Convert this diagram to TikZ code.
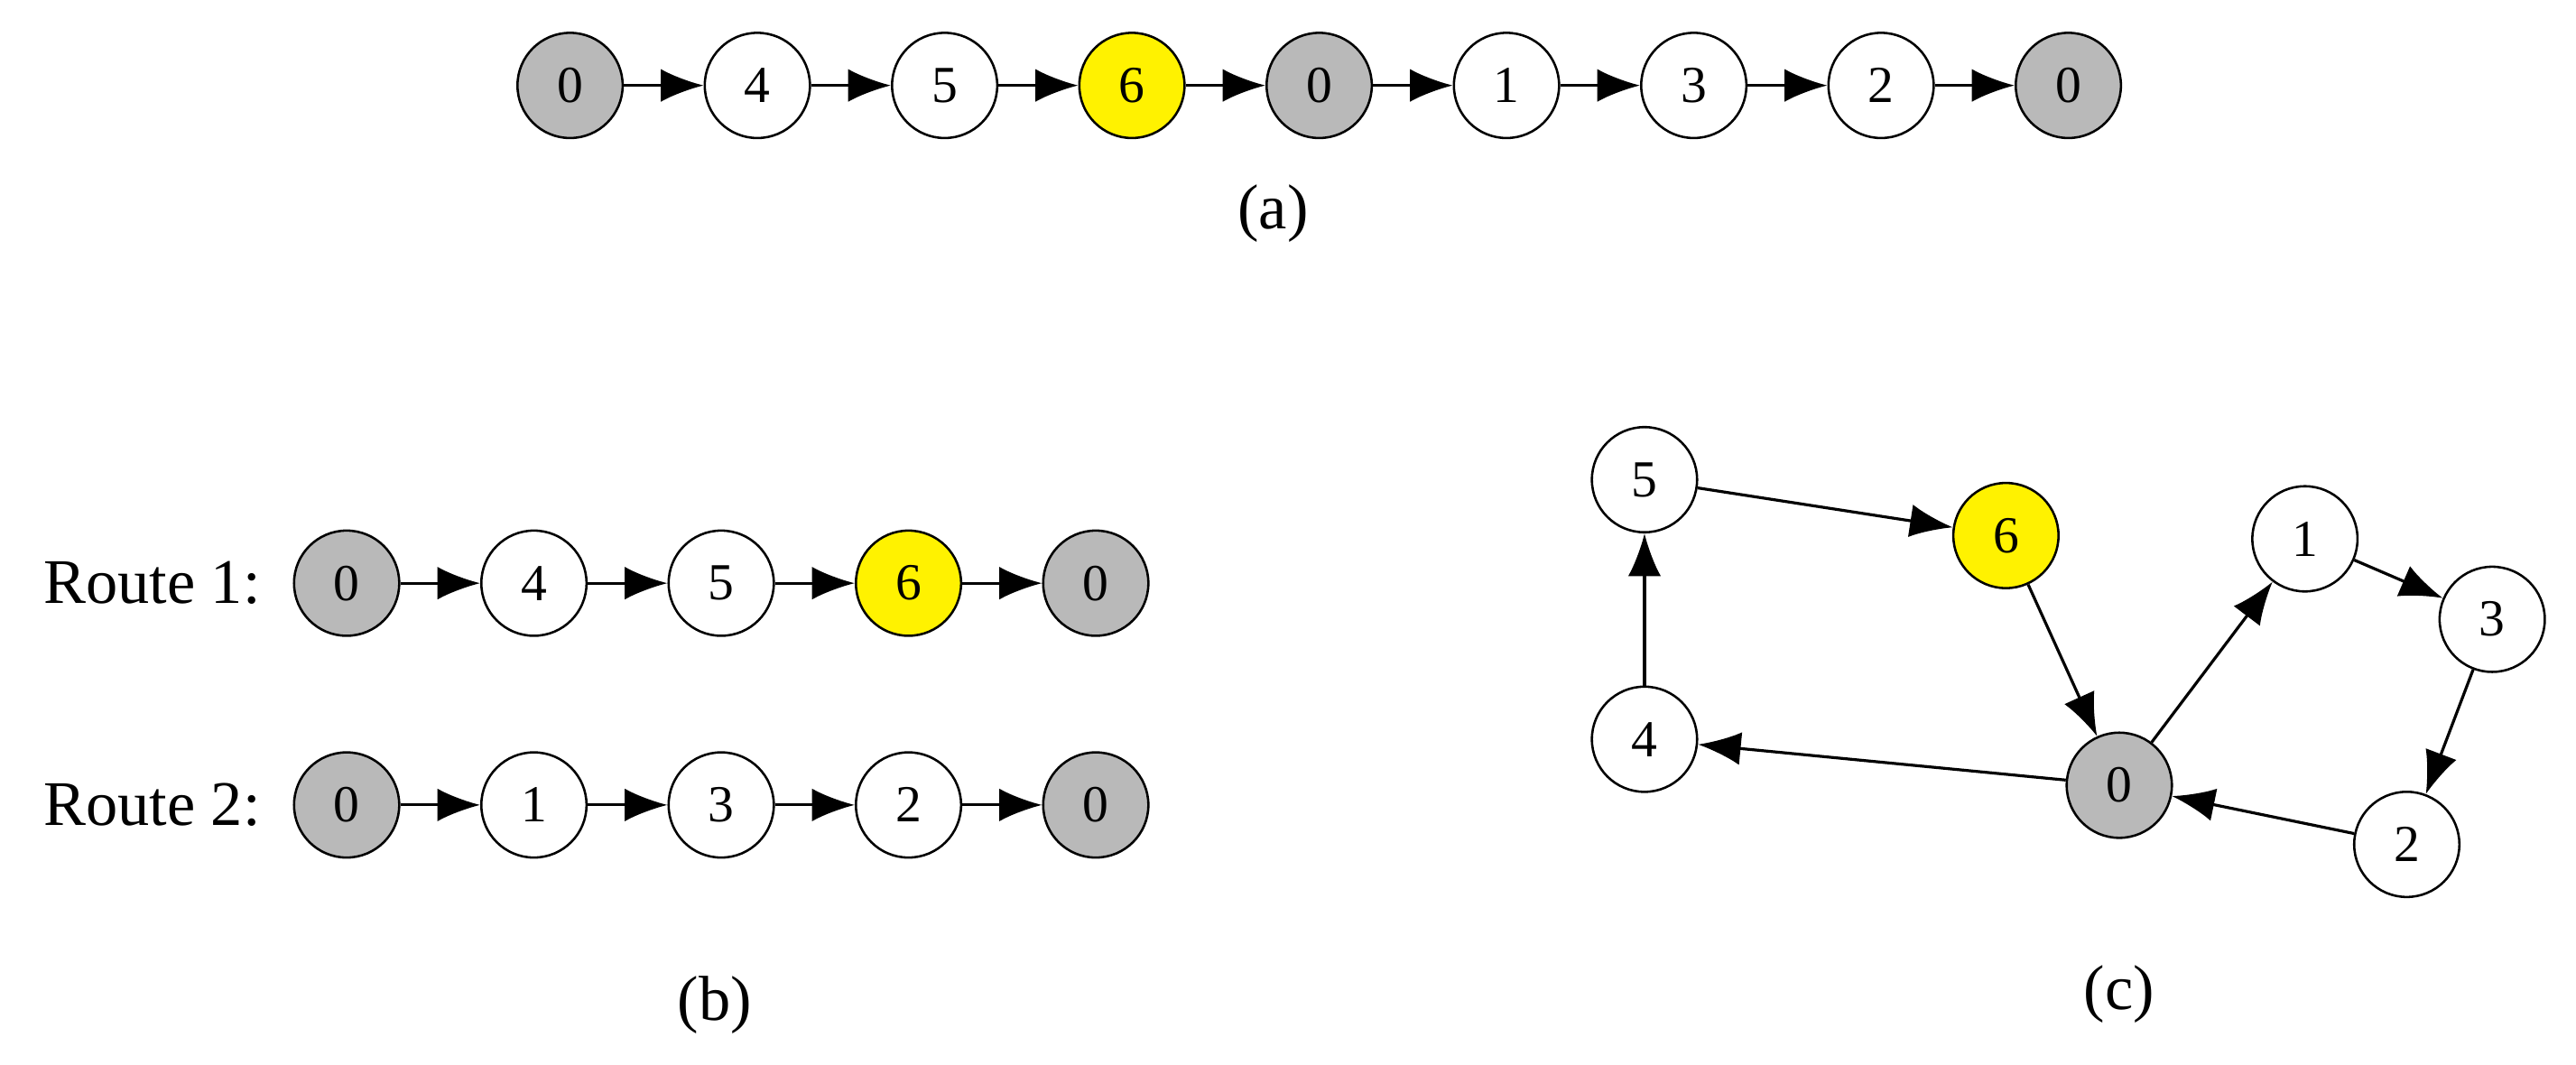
\documentclass[tikz,border=0pt]{standalone}
\usepackage{fontspec}
\setmainfont{Liberation Serif}
\usetikzlibrary{arrows.meta}
\begin{document}
\begin{tikzpicture}
[x=0.01cm, y=-0.01cm,
city/.style={circle, draw, line width=0.4pt, minimum size=0.64cm, inner sep=0pt, font=\fontsize{9}{9}\selectfont},
depot/.style={city, fill=gray!55},
hot/.style={city, fill=yellow},
link/.style={-{Latex[length=2.6mm, width=2mm]}, line width=0.5pt},
label text/.style={font=\fontsize{11}{11}\selectfont}]
\useasboundingbox (0,0) rectangle (1568,648);
% (a)
\node[depot] (a1) at (347,52) {0};
\node[city] (a2) at (461,52) {4};
\node[city] (a3) at (575,52) {5};
\node[hot] (a4) at (689,52) {6};
\node[depot] (a5) at (803,52) {0};
\node[city] (a6) at (917,52) {1};
\node[city] (a7) at (1031,52) {3};
\node[city] (a8) at (1145,52) {2};
\node[depot] (a9) at (1259,52) {0};
\foreach \i/\j in {1/2,2/3,3/4,4/5,5/6,6/7,7/8,8/9}
  \draw[link] (a\i) -- (a\j);
\node[label text] (la) at (775,130) {(a)};
% (b)
\node[label text, anchor=west] (r1) at (14,355) {Route 1:};
\node[depot] (b1) at (211,355) {0};
\node[city] (b2) at (325,355) {4};
\node[city] (b3) at (439,355) {5};
\node[hot] (b4) at (553,355) {6};
\node[depot] (b5) at (667,355) {0};
\node[label text, anchor=west] (r2) at (14,490) {Route 2:};
\node[depot] (c1) at (211,490) {0};
\node[city] (c2) at (325,490) {1};
\node[city] (c3) at (439,490) {3};
\node[city] (c4) at (553,490) {2};
\node[depot] (c5) at (667,490) {0};
\foreach \i/\j in {1/2,2/3,3/4,4/5}
  {\draw[link] (b\i) -- (b\j);
   \draw[link] (c\i) -- (c\j);}
\node[label text] (lb) at (435,612) {(b)};
% (c)
\node[city] (n5) at (1001,292) {5};
\node[hot] (n6) at (1221,326) {6};
\node[city] (n1) at (1403,328) {1};
\node[city] (n3) at (1517,377) {3};
\node[city] (n4) at (1001,450) {4};
\node[depot] (n0) at (1290,478) {0};
\node[city] (n2) at (1465,514) {2};
\foreach \i/\j in {5/6,6/0,0/1,1/3,3/2,2/0,0/4,4/5}
  \draw[link] (n\i) -- (n\j);
\node[label text] (lc) at (1290,605) {(c)};
\end{tikzpicture}
\end{document}
